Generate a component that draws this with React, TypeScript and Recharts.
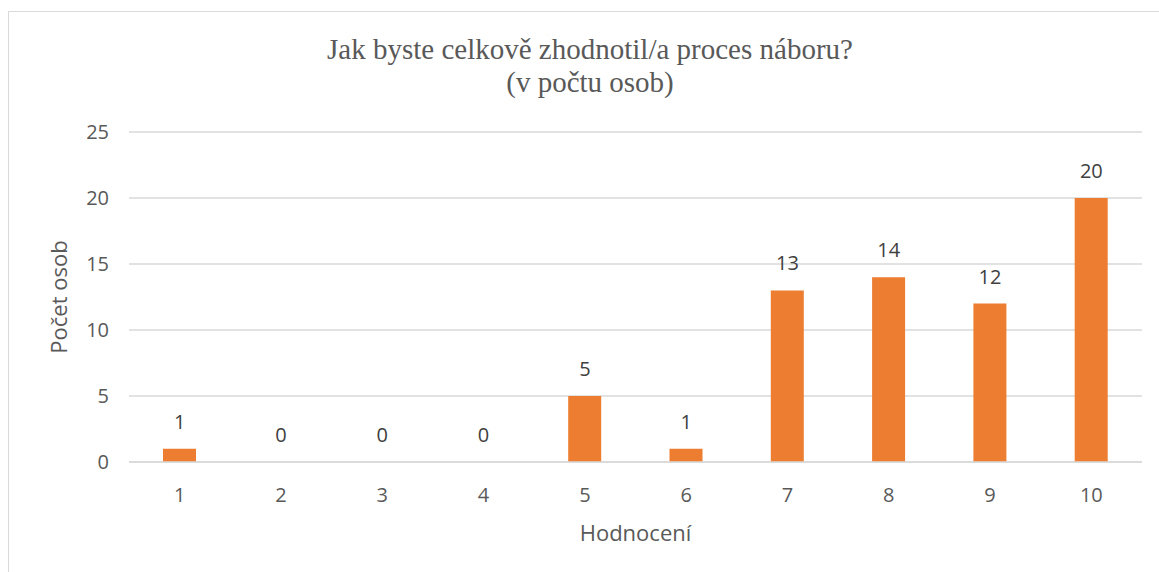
import React from "react";
import {
  Bar,
  ComposedChart,
  CartesianGrid,
  LabelList,
  Line,
  XAxis,
  YAxis,
} from "recharts";

const ratings = ["1", "2", "3", "4", "5", "6", "7", "8", "9", "10"];
const counts = [1, 0, 0, 0, 5, 1, 13, 14, 12, 20];
const yTicks = [0, 5, 10, 15, 20, 25];

const data = ratings.map((r, i) => ({ rating: r, count: counts[i] }));

const SANS = "'Open Sans', 'Liberation Sans', sans-serif";
const GRID = "#d9d9d9";
const TEXT = "#595959";

function YTitle({ viewBox }: any) {
  const cx = 58;
  const cy = viewBox.y + viewBox.height / 2;
  return (
    <text
      x={cx}
      y={cy}
      transform={`rotate(-90 ${cx} ${cy})`}
      textAnchor="middle"
      dominantBaseline="central"
      fill={TEXT}
      fontSize={22}
      fontFamily={SANS}
    >
      Počet osob
    </text>
  );
}

function XTitle({ viewBox }: any) {
  const cx = viewBox.x + viewBox.width / 2;
  return (
    <text
      x={cx}
      y={532}
      textAnchor="middle"
      dominantBaseline="central"
      fill={TEXT}
      fontSize={22}
      fontFamily={SANS}
    >
      Hodnocení
    </text>
  );
}

export default function App() {
  return (
    <div
      style={{
        position: "absolute",
        left: 0,
        top: 0,
        width: 1159,
        height: 572,
        background: "#fff",
        overflow: "hidden",
      }}
    >
      <div
        style={{
          position: "absolute",
          left: 8,
          top: 11,
          width: 1170,
          height: 600,
          border: "1px solid #d9d9d9",
          boxSizing: "border-box",
        }}
      />
      <div
        style={{
          position: "absolute",
          left: 0,
          top: 33,
          width: 1180,
          textAlign: "center",
          fontFamily: "'Liberation Serif', 'Times New Roman', serif",
          fontSize: 29,
          lineHeight: "33px",
          color: TEXT,
        }}
      >
        Jak byste celkově zhodnotil/a proces náboru?
        <br />
        (v počtu osob)
      </div>
      <div style={{ position: "absolute", left: 0, top: 0 }}>
        <ComposedChart
          width={1159}
          height={572}
          data={data}
          margin={{ top: 132, right: 17, bottom: 0, left: 0 }}
          barSize={33}
        >
          <CartesianGrid stroke={GRID} strokeWidth={1.5} vertical={false} />
          <XAxis
            dataKey="rating"
            height={110}
            axisLine={{ stroke: GRID, strokeWidth: 1.5 }}
            tickLine={false}
            tickSize={6}
            tickMargin={20}
            tick={{ fill: TEXT, fontSize: 20, fontFamily: SANS }}
            label={{ content: XTitle }}
          />
          <YAxis
            width={129}
            domain={[0, 25]}
            ticks={yTicks}
            axisLine={false}
            tickLine={false}
            tickMargin={14}
            tick={{ fill: TEXT, fontSize: 20, fontFamily: SANS }}
            label={{ content: YTitle }}
          />
          <Bar dataKey="count" fill="#ED7D31" isAnimationActive={false} />
          {/* invisible series so that zero values still get a label */}
          <Line
            dataKey="count"
            stroke="none"
            dot={false}
            activeDot={false}
            isAnimationActive={false}
          >
            <LabelList
              dataKey="count"
              position="top"
              offset={20}
              fill="#404040"
              fontSize={20}
              fontFamily={SANS}
            />
          </Line>
        </ComposedChart>
      </div>
    </div>
  );
}
